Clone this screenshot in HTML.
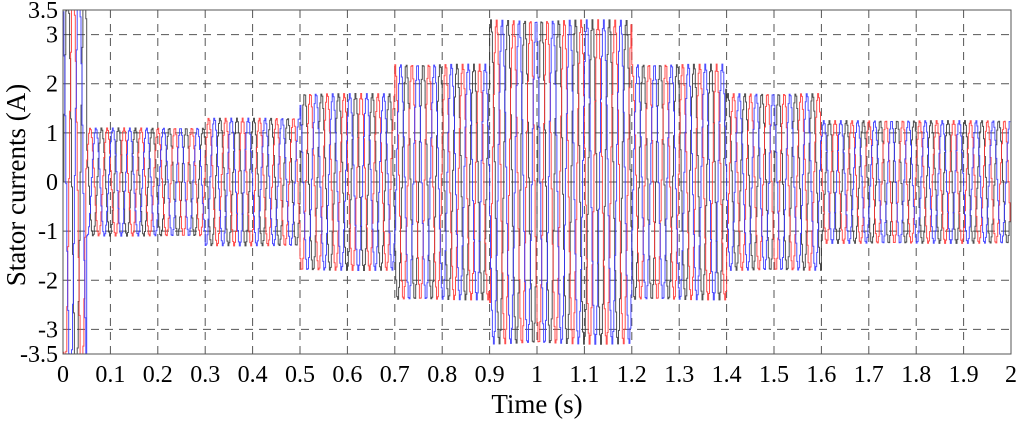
<!DOCTYPE html>
<html><head><meta charset="utf-8"><style>
body{margin:0;background:#fff;font-family:"Liberation Serif","Times New Roman",Times,serif;}
svg{display:block;}
</style></head><body>
<svg id="c" width="1024" height="421" font-family="'Liberation Serif', 'Times New Roman', Times, serif"></svg>
<script>
const xTicks=[0,0.1,0.2,0.3,0.4,0.5,0.6,0.7,0.8,0.9,1,1.1,1.2,1.3,1.4,1.5,1.6,1.7,1.8,1.9,2];
const xTickLabels=["0","0.1","0.2","0.3","0.4","0.5","0.6","0.7","0.8","0.9","1","1.1","1.2","1.3","1.4","1.5","1.6","1.7","1.8","1.9","2"];
const yTicks=[-3.5,-3,-2,-1,0,1,2,3,3.5];
const yTickLabels=["-3.5","-3","-2","-1","0","1","2","3","3.5"];
const segStarts=[0,0.05,0.3,0.5,0.7,0.9,1.2,1.4,1.6];
const segEnds=[0.05,0.3,0.5,0.7,0.9,1.2,1.4,1.6,2.0];
const segAmps=[4.0,1.1,1.3,1.8,2.4,3.3,2.4,1.8,1.25];
const freqHz=28;
const phaseColors=["#333333","#ff3030","#3030ff"];
const phaseShifts=[0,-2.094,2.094];

const svg=document.getElementById('c');
const NS='http://www.w3.org/2000/svg';
const FONT="'Liberation Serif', 'Times New Roman', Times, serif";
const L=63,R=1011,T=10,B=354;
const X=t=>L+(t-0)/(2-0)*(R-L);
const Y=v=>B-(v+3.5)/7*(B-T);
function mk(tag,attrs,parent){const e=document.createElementNS(NS,tag);for(const k in attrs)e.setAttribute(k,attrs[k]);(parent||svg).appendChild(e);return e;}

const grid=mk('g',{});


xTicks.forEach((t,i)=>{if(i>0&&i<xTicks.length-1){mk('line',{x1:X(t),x2:X(t),y1:T,y2:B,stroke:'#555','stroke-dasharray':'8,6','stroke-width':1},grid);}});
yTicks.forEach(v=>{if(v>-3.5&&v<3.5){mk('line',{x1:L,x2:R,y1:Y(v),y2:Y(v),stroke:'#555','stroke-dasharray':'8,6','stroke-width':1},grid);}});

const clip=mk('clipPath',{id:'pc'});mk('rect',{x:L,y:T,width:R-L,height:B-T},clip);
const series=mk('g',{'clip-path':'url(#pc)'});


function ampAt(t){for(let i=0;i<segStarts.length;i++){if(t>=segStarts[i]&&t<segEnds[i])return segAmps[i];}return segAmps[segAmps.length-1];}
phaseColors.forEach((col,p)=>{
  let d='';const dt=0.002;let prevY=null;
  for(let t=0;t<=2;t+=dt){
    const v=ampAt(t)*Math.sin(2*Math.PI*freqHz*t+phaseShifts[p]);
    const x=X(t),y=Y(v);
    d+=(prevY===null?'M'+x.toFixed(1)+','+y.toFixed(1):'L'+x.toFixed(1)+','+prevY.toFixed(1)+'L'+x.toFixed(1)+','+y.toFixed(1));
    prevY=y;
  }
  const path=mk('path',{d:d,fill:'none',stroke:col,'stroke-width':1,opacity:0.85},series);
  
  
});

const frame=mk('rect',{x:L,y:T,width:R-L,height:B-T,fill:'none',stroke:'#555','stroke-width':1});



const xl=mk('g',{'font-size':24,'text-anchor':'middle','font-family':FONT});


xTicks.forEach((t,i)=>{const e=mk('text',{x:X(t),y:382,'font-family':FONT},xl);e.textContent=xTickLabels[i];});
const yl=mk('g',{'font-size':24,'text-anchor':'end','font-family':FONT});


yTicks.forEach((v,i)=>{const e=mk('text',{x:58,y:Y(v)+8,'font-family':FONT},yl);e.textContent=yTickLabels[i];});

const xt=mk('text',{x:537,y:413,'font-size':27,'text-anchor':'middle','font-family':FONT});xt.textContent='Time (s)';


const yt=mk('text',{x:0,y:0,'font-size':27,'text-anchor':'middle','font-family':FONT,transform:'translate(25,185) rotate(-90)'});yt.textContent='Stator currents (A)';


</script>
</body></html>
